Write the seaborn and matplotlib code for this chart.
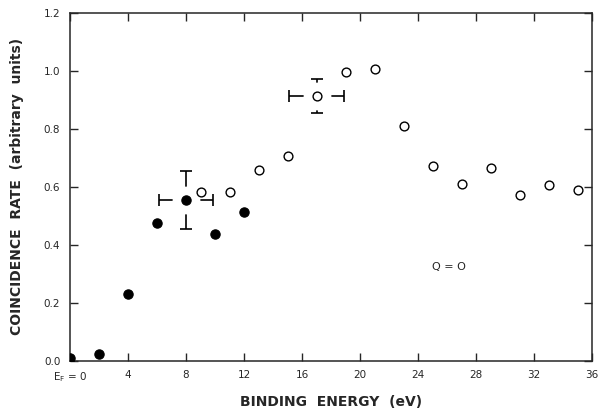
import numpy as np
import pandas as pd
import matplotlib
matplotlib.use('Agg')
import matplotlib.pyplot as plt
import seaborn as sns

# Data
filled_x = [0, 2, 4, 6, 8, 10, 12]
filled_y = [0.008, 0.022, 0.229, 0.476, 0.553, 0.437, 0.513]

open_x = [9, 11, 13, 15, 17, 19, 21, 23, 25, 27, 29, 31, 33, 35]
open_y = [0.580, 0.580, 0.658, 0.707, 0.912, 0.997, 1.005, 0.811, 0.670, 0.610,
          0.663, 0.570, 0.605, 0.587]

# error bars (center x, center y, x error, y error)
err_x = [8, 17]
err_y = [0.553, 0.912]
err_xerr = [1.85, 1.9]
err_yerr = [0.10, 0.058]

xticks = [0, 4, 8, 12, 16, 20, 24, 28, 32, 36]
xticklabels = [r'E$_\mathregular{F}$ = 0', '4', '8', '12', '16', '20', '24', '28', '32', '36']
yticks = [0.0, 0.2, 0.4, 0.6, 0.8, 1.0, 1.2]

df_f = pd.DataFrame({'x': filled_x, 'y': filled_y})
df_o = pd.DataFrame({'x': open_x, 'y': open_y})

sns.set_style('ticks')
plt.rcParams['font.family'] = ['DejaVu Sans']

fig = plt.figure(figsize=(6.02, 4.12), dpi=100)
ax = fig.add_axes([0.1163, 0.1245, 0.8671, 0.8447])

# error bars with gap around the point (white mask drawn over)
ax.errorbar(err_x, err_y, xerr=err_xerr, yerr=err_yerr, fmt='none', ecolor='black',
            elinewidth=1.2, capsize=4, capthick=1.2, zorder=2)
ax.plot(err_x, err_y, 'o', ms=19, color='white', zorder=3)

sns.scatterplot(data=df_f, x='x', y='y', ax=ax, color='black', s=45,
                edgecolor='black', linewidth=0.8, zorder=4)
sns.scatterplot(data=df_o, x='x', y='y', ax=ax, facecolor='white', s=40,
                edgecolor='black', linewidth=1.0, zorder=4)

ax.text(26.1, 0.324, 'Q = O', ha='center', va='center', fontsize=8)

ax.set_xlim(0, 36)
ax.set_ylim(0, 1.2)
ax.set_xticks(xticks)
ax.set_xticklabels(xticklabels, fontsize=7.5)
ax.set_yticks(yticks)
ax.set_yticklabels(['%.1f' % v for v in yticks], fontsize=7.5)
ax.tick_params(direction='in', length=6, width=1.0, top=True, right=True)
ax.tick_params(axis='x', pad=7)
ax.tick_params(axis='y', pad=7)
for s in ax.spines.values():
    s.set_visible(True)
    s.set_linewidth(1.1)

ax.set_xlabel('BINDING  ENERGY  (eV)', fontsize=10, fontweight='bold', va='center')
ax.xaxis.set_label_coords(0.5, -0.12)
ax.set_ylabel('COINCIDENCE  RATE  (arbitrary  units)', fontsize=10, fontweight='bold', labelpad=14)

fig.savefig('out.png', dpi=100)
